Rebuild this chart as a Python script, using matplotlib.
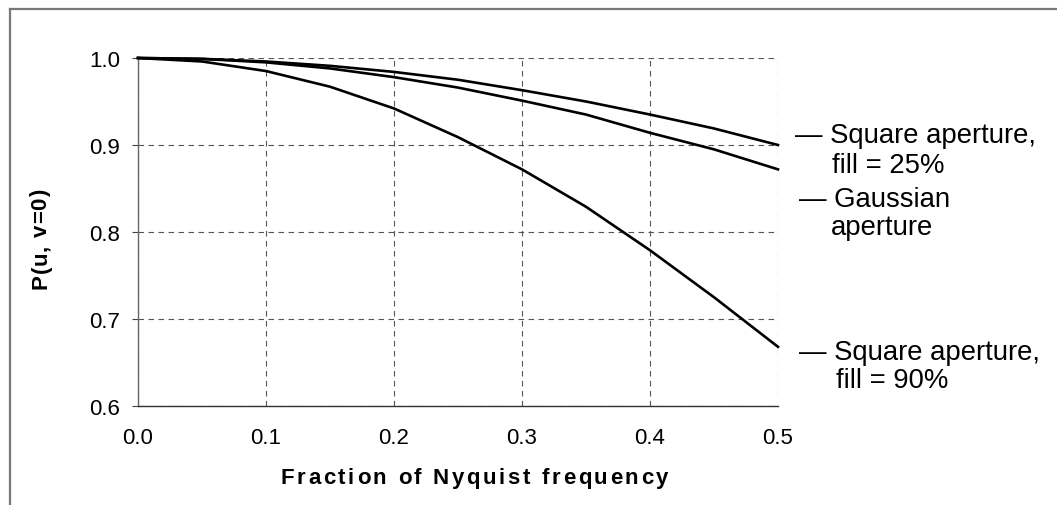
import matplotlib
matplotlib.use("Agg")
import matplotlib.pyplot as plt
from matplotlib.font_manager import FontProperties, findfont, get_font
from matplotlib.lines import Line2D

# Frequency response along u for the three apertures
freq = [0.0, 0.05, 0.10, 0.15, 0.20, 0.25, 0.30, 0.35, 0.40, 0.45, 0.50]
square_25 = [1.000, 0.999, 0.996, 0.991, 0.984, 0.975, 0.963, 0.950, 0.935, 0.919, 0.900]
gaussian = [1.000, 0.999, 0.995, 0.988, 0.978, 0.966, 0.951, 0.935, 0.914, 0.895, 0.872]
square_90 = [1.000, 0.996, 0.985, 0.967, 0.942, 0.909, 0.872, 0.829, 0.779, 0.725, 0.668]

x_ticks = [0.0, 0.1, 0.2, 0.3, 0.4, 0.5]
y_ticks = [0.6, 0.7, 0.8, 0.9, 1.0]

W, H = 1057, 506
FONT = "Liberation Sans"

fig = plt.figure(figsize=(W / 100, H / 100), dpi=100)


def fx(px):
    return px / W


def fy(py):
    return 1 - py / H


def spaced_text(x_px, y_px, s, size, spacing, rotation=0):
    """Bold text with extra tracking, drawn one glyph at a time.
    x_px / y_px is the centre of the baseline (pixels from top-left)."""
    prop = FontProperties(family=FONT, weight="bold", size=size)
    font = get_font(findfont(prop))
    font.set_size(size, fig.dpi)
    adv = [font.load_char(ord(c)).linearHoriAdvance / 65536 for c in s]
    total = sum(adv) + spacing * (len(s) - 1)
    pos = -total / 2
    for c, a in zip(s, adv):
        if rotation == 0:
            x, y = x_px + pos, y_px
        else:
            x, y = x_px, y_px - pos
        fig.text(fx(x), fy(y), c, fontproperties=prop, rotation=rotation,
                 rotation_mode="anchor", ha="left", va="baseline")
        pos += a + spacing


# plot area
ax = fig.add_axes([fx(138), fy(407), fx(778) - fx(138), fy(59) - fy(407)])
for ys in (square_25, gaussian, square_90):
    ax.plot(freq, ys, color="black", lw=1.9, clip_on=False, zorder=3)

ax.set_xlim(0, 0.5)
ax.set_ylim(0.6, 1.0)
ax.set_xticks(x_ticks)
ax.set_yticks(y_ticks)
ax.set_xticklabels([f"{v:.1f}" for v in x_ticks])
ax.set_yticklabels([f"{v:.1f}" for v in y_ticks])
ax.tick_params(axis="x", length=0, pad=15, labelsize=16)
ax.tick_params(axis="y", length=4, width=0.8, color="#444444", pad=9, labelsize=16)
for lbl in ax.get_xticklabels() + ax.get_yticklabels():
    lbl.set_fontfamily(FONT)

ax.grid(True, color="#555555", lw=0.8, linestyle=(0, (5, 4)))
ax.spines["top"].set_visible(False)
ax.spines["right"].set_visible(False)
ax.spines["left"].set_color("#666666")
ax.spines["bottom"].set_color("#333333")
ax.spines["left"].set_linewidth(1.0)
ax.spines["bottom"].set_linewidth(1.0)

# axis titles with wide letter spacing
spaced_text(474.5, 484, "Fraction of Nyquist frequency", 16, 2.6)
spaced_text(46.5, 239, "P(u, v=0)", 16, 0.8, rotation=90)

# curve labels on the right
labels = [
    (795, 143, "— Square aperture,", 832, 173, "fill = 25%"),
    (799, 207, "— Gaussian", 831, 235, "aperture"),
    (799, 360, "— Square aperture,", 836, 388, "fill = 90%"),
]
for x1, y1, t1, x2, y2, t2 in labels:
    fig.text(fx(x1), fy(y1), t1, family=FONT, size=19.8, va="baseline", ha="left")
    fig.text(fx(x2), fy(y2), t2, family=FONT, size=19.8, va="baseline", ha="left")

# outer frame (top and left edges)
fig.add_artist(Line2D([fx(10), 1.0], [fy(10), fy(10)], color="#777777", lw=1.6))
fig.add_artist(Line2D([fx(10), fx(10)], [fy(10), 0.0], color="#777777", lw=1.6))

fig.savefig("out.png", dpi=100)
